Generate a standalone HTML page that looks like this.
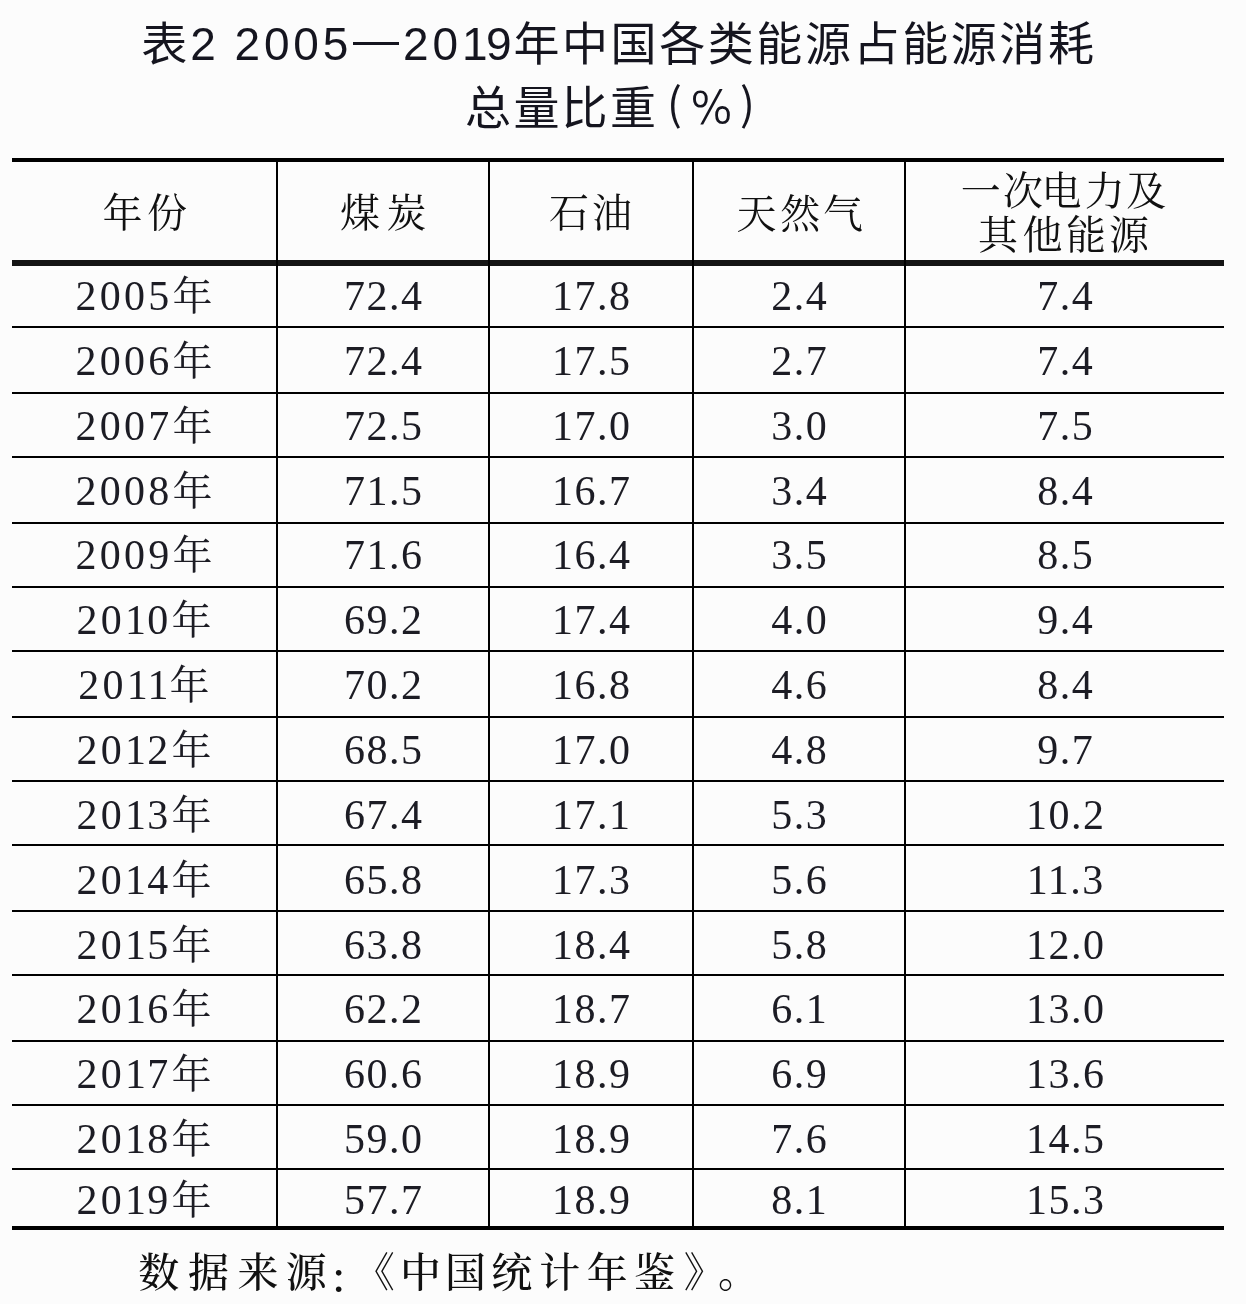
<!DOCTYPE html>
<html lang="zh-CN"><head><meta charset="utf-8"><title>表2 2005—2019年中国各类能源占能源消耗总量比重(%)</title>
<style>
html,body{margin:0;padding:0}
html{width:1246px;height:1304px;overflow:hidden}
body{width:1246px;height:1304px;background:#fcfcfc;position:relative;overflow:hidden;color:#121219}
.t{position:absolute;white-space:nowrap;text-align:center}
.c{position:absolute;white-space:pre;height:100px;line-height:100px}
.ln{position:absolute;left:0;top:0;width:1246px;height:1304px;overflow:hidden}
.g{position:absolute;white-space:nowrap;height:100px;line-height:100px}
.g>span{display:inline-block;vertical-align:top;height:100px;line-height:100px}
.title{font-family:"Liberation Sans","Noto Sans CJK SC",sans-serif;font-size:46px;color:#15151f;left:0;width:1246px;height:60px;line-height:60px}
.hd{font-family:"Liberation Serif","Noto Serif CJK SC",serif;font-size:40px;color:#111;font-weight:400}
.dt{font-family:"Liberation Serif","Noto Serif CJK SC",serif;font-size:42px;letter-spacing:1.5px;height:60px;line-height:60px;color:#1c1c24}
.yr{letter-spacing:3.2px}
.n1{letter-spacing:1.2px}
.nj{font-size:40px}
.ft{font-family:"Liberation Serif","Noto Serif CJK SC",serif;font-size:41px;color:#111;font-weight:500}
.t2{font-family:"Liberation Sans","Noto Sans CJK SC",sans-serif;font-size:46px;color:#15151f}
.pc{font-family:"Noto Sans CJK SC",sans-serif;font-weight:400;font-size:44px;color:#15151f}
.pp{font-family:"NanumGothic",sans-serif;font-size:44px;color:#15151f}
.hl{position:absolute;left:12px;width:1212px;background:#000}
.vl{position:absolute;top:160px;height:1068px;width:2px;background:#000}
</style></head><body>

<div class="t title" style="top:13.5px;letter-spacing:3px;left:141.2px;width:auto;text-align:left">表2 <span style="letter-spacing:3.8px">2005</span><span style="position:relative;top:-5px;margin-left:1px">—</span><span style="letter-spacing:3.8px;margin-left:1px">20<span style="letter-spacing:-1.5px">1</span>9</span><span style="letter-spacing:2.6px;margin-left:-2px">年中国各类能源占能源消耗</span></div>
<div class="g t2" style="left:465.0px;top:57.6px"><span style="width:48.4px">总</span><span style="width:48.0px">量</span><span style="width:48.6px">比</span><span style="width:57.0px">重</span><span class="pc" style="width:20.5px;position:relative;top:-6.2px">(</span><span class="pp" style="width:52.4px;position:relative;top:0.2px">%</span><span class="pc" style="width:50.0px;position:relative;top:-6.2px">)</span></div>
<div class="hl" style="top:158px;height:4px"></div>
<div class="hl" style="top:260px;height:6px;background:#141414"></div>
<div class="hl" style="top:326px;height:2px"></div>
<div class="hl" style="top:392px;height:2px"></div>
<div class="hl" style="top:456px;height:2px"></div>
<div class="hl" style="top:522px;height:2px"></div>
<div class="hl" style="top:586px;height:2px"></div>
<div class="hl" style="top:650px;height:2px"></div>
<div class="hl" style="top:716px;height:2px"></div>
<div class="hl" style="top:780px;height:2px"></div>
<div class="hl" style="top:844px;height:2px"></div>
<div class="hl" style="top:910px;height:2px"></div>
<div class="hl" style="top:974px;height:2px"></div>
<div class="hl" style="top:1040px;height:2px"></div>
<div class="hl" style="top:1104px;height:2px"></div>
<div class="hl" style="top:1168px;height:2px"></div>
<div class="hl" style="top:1226px;height:4px"></div>
<div class="vl" style="left:276px"></div>
<div class="vl" style="left:488px"></div>
<div class="vl" style="left:692px"></div>
<div class="vl" style="left:904px"></div>
<div class="g hd" style="left:102.4px;top:164.4px"><span style="width:44.5px">年</span><span style="width:50.0px">份</span></div>
<div class="g hd" style="left:340.0px;top:163.8px"><span style="width:46.4px">煤</span><span style="width:50.0px">炭</span></div>
<div class="g hd" style="left:549.0px;top:163.7px"><span style="width:42.9px">石</span><span style="width:50.0px">油</span></div>
<div class="g hd" style="left:736.5px;top:164.5px"><span style="width:43.8px">天</span><span style="width:42.7px">然</span><span style="width:50.0px">气</span></div>
<div class="g hd" style="left:960.8px;top:142.1px"><span style="width:42.1px">一</span><span style="width:38.5px">次</span><span style="width:43.4px">电</span><span style="width:41.4px">力</span><span style="width:50.0px">及</span></div>
<div class="g hd" style="left:977.9px;top:186.2px"><span style="width:44.6px">其</span><span style="width:43.6px">他</span><span style="width:42.8px">能</span><span style="width:50.0px">源</span></div>
<div class="t dt yr" style="left:12.0px;width:267.2px;top:266.0px">2005<span class="nj">年</span></div>
<div class="t dt" style="left:278.0px;width:211.5px;top:266.0px">72.4</div>
<div class="t dt" style="left:490.0px;width:203.5px;top:266.0px">17.8</div>
<div class="t dt" style="left:694.0px;width:211.5px;top:266.0px">2.4</div>
<div class="t dt" style="left:906.0px;width:319.5px;top:266.0px">7.4</div>
<div class="t dt yr" style="left:12.0px;width:267.2px;top:330.9px">2006<span class="nj">年</span></div>
<div class="t dt" style="left:278.0px;width:211.5px;top:330.9px">72.4</div>
<div class="t dt" style="left:490.0px;width:203.5px;top:330.9px">17.5</div>
<div class="t dt" style="left:694.0px;width:211.5px;top:330.9px">2.7</div>
<div class="t dt" style="left:906.0px;width:319.5px;top:330.9px">7.4</div>
<div class="t dt yr" style="left:12.0px;width:267.2px;top:395.7px">2007<span class="nj">年</span></div>
<div class="t dt" style="left:278.0px;width:211.5px;top:395.7px">72.5</div>
<div class="t dt" style="left:490.0px;width:203.5px;top:395.7px">17.0</div>
<div class="t dt" style="left:694.0px;width:211.5px;top:395.7px">3.0</div>
<div class="t dt" style="left:906.0px;width:319.5px;top:395.7px">7.5</div>
<div class="t dt yr" style="left:12.0px;width:267.2px;top:460.5px">2008<span class="nj">年</span></div>
<div class="t dt" style="left:278.0px;width:211.5px;top:460.5px">71.5</div>
<div class="t dt" style="left:490.0px;width:203.5px;top:460.5px">16.7</div>
<div class="t dt" style="left:694.0px;width:211.5px;top:460.5px">3.4</div>
<div class="t dt" style="left:906.0px;width:319.5px;top:460.5px">8.4</div>
<div class="t dt yr" style="left:12.0px;width:267.2px;top:525.4px">2009<span class="nj">年</span></div>
<div class="t dt" style="left:278.0px;width:211.5px;top:525.4px">71.6</div>
<div class="t dt" style="left:490.0px;width:203.5px;top:525.4px">16.4</div>
<div class="t dt" style="left:694.0px;width:211.5px;top:525.4px">3.5</div>
<div class="t dt" style="left:906.0px;width:319.5px;top:525.4px">8.5</div>
<div class="t dt yr" style="left:12.0px;width:267.2px;top:590.2px">20<span class="n1">1</span>0<span class="nj">年</span></div>
<div class="t dt" style="left:278.0px;width:211.5px;top:590.2px">69.2</div>
<div class="t dt" style="left:490.0px;width:203.5px;top:590.2px">17.4</div>
<div class="t dt" style="left:694.0px;width:211.5px;top:590.2px">4.0</div>
<div class="t dt" style="left:906.0px;width:319.5px;top:590.2px">9.4</div>
<div class="t dt yr" style="left:12.0px;width:267.2px;top:655.1px">20<span class="n1">1</span><span class="n1">1</span><span class="nj">年</span></div>
<div class="t dt" style="left:278.0px;width:211.5px;top:655.1px">70.2</div>
<div class="t dt" style="left:490.0px;width:203.5px;top:655.1px">16.8</div>
<div class="t dt" style="left:694.0px;width:211.5px;top:655.1px">4.6</div>
<div class="t dt" style="left:906.0px;width:319.5px;top:655.1px">8.4</div>
<div class="t dt yr" style="left:12.0px;width:267.2px;top:719.9px">20<span class="n1">1</span>2<span class="nj">年</span></div>
<div class="t dt" style="left:278.0px;width:211.5px;top:719.9px">68.5</div>
<div class="t dt" style="left:490.0px;width:203.5px;top:719.9px">17.0</div>
<div class="t dt" style="left:694.0px;width:211.5px;top:719.9px">4.8</div>
<div class="t dt" style="left:906.0px;width:319.5px;top:719.9px">9.7</div>
<div class="t dt yr" style="left:12.0px;width:267.2px;top:784.8px">20<span class="n1">1</span>3<span class="nj">年</span></div>
<div class="t dt" style="left:278.0px;width:211.5px;top:784.8px">67.4</div>
<div class="t dt" style="left:490.0px;width:203.5px;top:784.8px">17.1</div>
<div class="t dt" style="left:694.0px;width:211.5px;top:784.8px">5.3</div>
<div class="t dt" style="left:906.0px;width:319.5px;top:784.8px">10.2</div>
<div class="t dt yr" style="left:12.0px;width:267.2px;top:849.6px">20<span class="n1">1</span>4<span class="nj">年</span></div>
<div class="t dt" style="left:278.0px;width:211.5px;top:849.6px">65.8</div>
<div class="t dt" style="left:490.0px;width:203.5px;top:849.6px">17.3</div>
<div class="t dt" style="left:694.0px;width:211.5px;top:849.6px">5.6</div>
<div class="t dt" style="left:906.0px;width:319.5px;top:849.6px">11.3</div>
<div class="t dt yr" style="left:12.0px;width:267.2px;top:914.5px">20<span class="n1">1</span>5<span class="nj">年</span></div>
<div class="t dt" style="left:278.0px;width:211.5px;top:914.5px">63.8</div>
<div class="t dt" style="left:490.0px;width:203.5px;top:914.5px">18.4</div>
<div class="t dt" style="left:694.0px;width:211.5px;top:914.5px">5.8</div>
<div class="t dt" style="left:906.0px;width:319.5px;top:914.5px">12.0</div>
<div class="t dt yr" style="left:12.0px;width:267.2px;top:979.3px">20<span class="n1">1</span>6<span class="nj">年</span></div>
<div class="t dt" style="left:278.0px;width:211.5px;top:979.3px">62.2</div>
<div class="t dt" style="left:490.0px;width:203.5px;top:979.3px">18.7</div>
<div class="t dt" style="left:694.0px;width:211.5px;top:979.3px">6.1</div>
<div class="t dt" style="left:906.0px;width:319.5px;top:979.3px">13.0</div>
<div class="t dt yr" style="left:12.0px;width:267.2px;top:1044.2px">20<span class="n1">1</span>7<span class="nj">年</span></div>
<div class="t dt" style="left:278.0px;width:211.5px;top:1044.2px">60.6</div>
<div class="t dt" style="left:490.0px;width:203.5px;top:1044.2px">18.9</div>
<div class="t dt" style="left:694.0px;width:211.5px;top:1044.2px">6.9</div>
<div class="t dt" style="left:906.0px;width:319.5px;top:1044.2px">13.6</div>
<div class="t dt yr" style="left:12.0px;width:267.2px;top:1109.0px">20<span class="n1">1</span>8<span class="nj">年</span></div>
<div class="t dt" style="left:278.0px;width:211.5px;top:1109.0px">59.0</div>
<div class="t dt" style="left:490.0px;width:203.5px;top:1109.0px">18.9</div>
<div class="t dt" style="left:694.0px;width:211.5px;top:1109.0px">7.6</div>
<div class="t dt" style="left:906.0px;width:319.5px;top:1109.0px">14.5</div>
<div class="t dt yr" style="left:12.0px;width:267.2px;top:1170.0px">20<span class="n1">1</span>9<span class="nj">年</span></div>
<div class="t dt" style="left:278.0px;width:211.5px;top:1170.0px">57.7</div>
<div class="t dt" style="left:490.0px;width:203.5px;top:1170.0px">18.9</div>
<div class="t dt" style="left:694.0px;width:211.5px;top:1170.0px">8.1</div>
<div class="t dt" style="left:906.0px;width:319.5px;top:1170.0px">15.3</div>
<div class="ln"><div class="g ft" style="left:138.2px;top:1222.5px"><span style="width:49.8px">数</span><span style="width:49.5px">据</span><span style="width:48.2px">来</span><span style="width:43.2px">源</span><span style="width:25.0px;position:relative;top:6.5px">：</span><span style="width:46.1px;position:relative;top:0.2px">《</span><span style="width:45.0px">中</span><span style="width:46.2px">国</span><span style="width:48.0px">统</span><span style="width:47.5px">计</span><span style="width:47.3px">年</span><span style="width:49.7px">鉴</span><span style="width:34.3px;position:relative;top:0.2px">》</span><span style="width:50.0px;position:relative;top:0.9px">。</span></div></div>
</body></html>
